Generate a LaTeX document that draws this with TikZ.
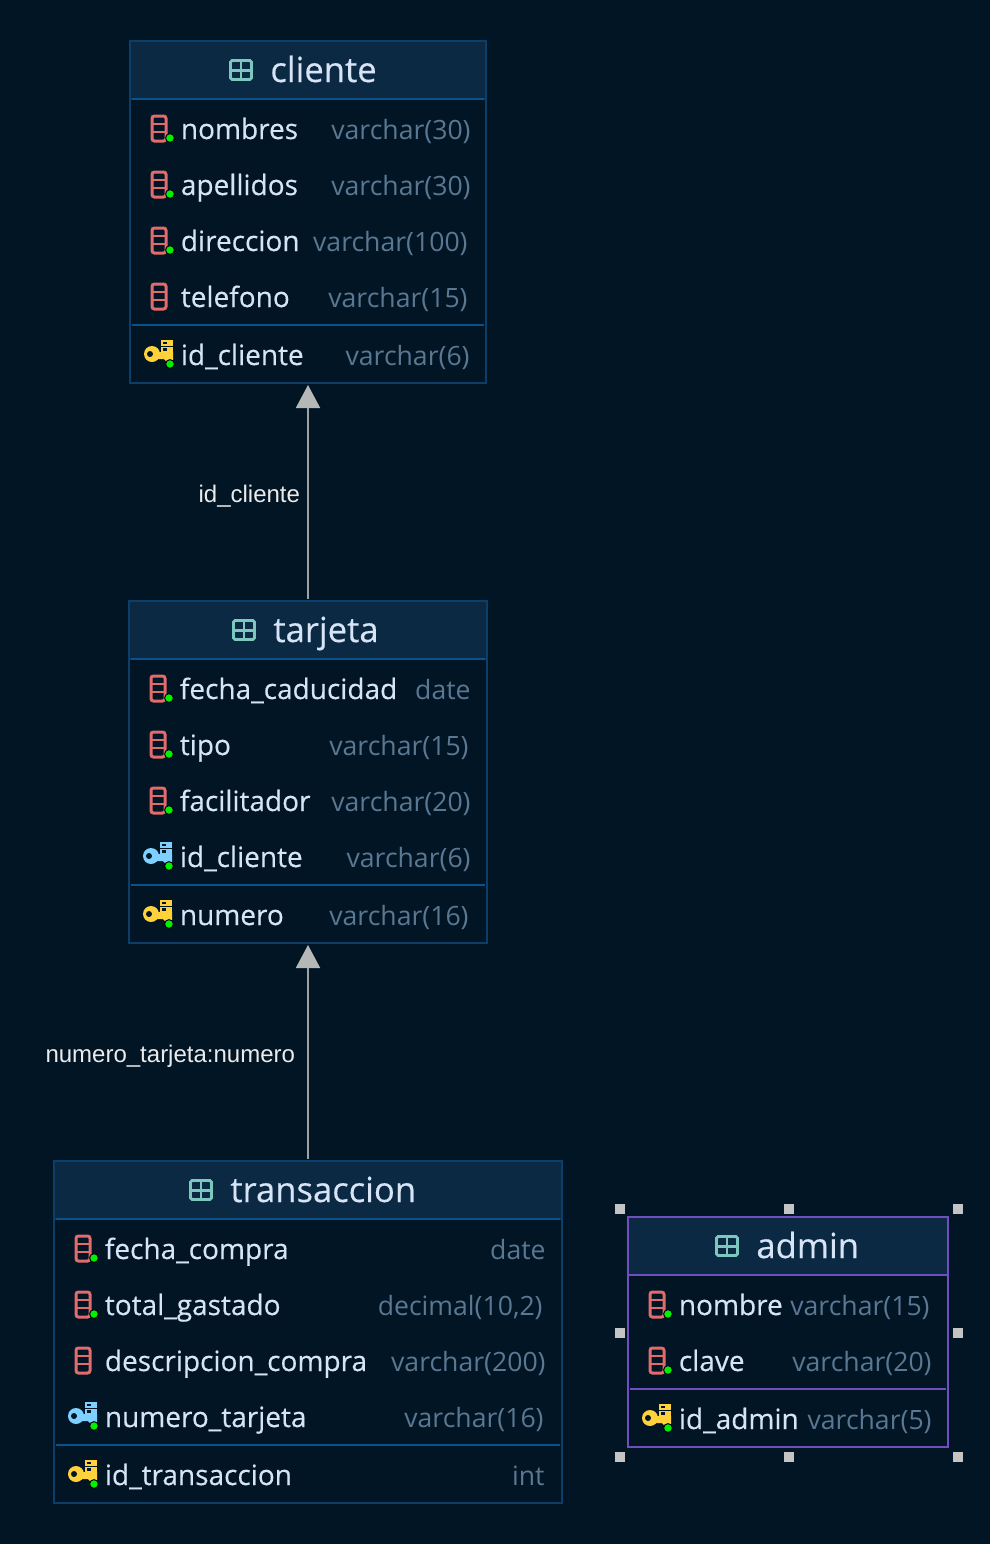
\documentclass[tikz,border=0pt]{standalone}
\usepackage{fontspec}
\setmainfont{Open Sans}
\newfontfamily\linkfont{Liberation Sans}
\newfontfamily\namefont[FakeBold=0.35]{Open Sans}
\usetikzlibrary{arrows.meta}

\definecolor{canvasbg}{RGB}{1,21,37}
\definecolor{headbg}{RGB}{12,41,68}
\definecolor{tableline}{RGB}{11,62,104}
\definecolor{headline}{RGB}{12,82,138}
\definecolor{pickline}{RGB}{112,78,190}
\definecolor{nametext}{RGB}{214,228,245}
\definecolor{typetext}{RGB}{90,120,145}
\definecolor{tableicon}{RGB}{125,200,190}
\definecolor{colred}{RGB}{226,108,108}
\definecolor{keyyellow}{RGB}{255,210,60}
\definecolor{keyblue}{RGB}{125,208,255}
\definecolor{dotgreen}{RGB}{0,240,0}
\definecolor{linkgray}{RGB}{160,162,162}
\definecolor{tipgray}{RGB}{182,184,184}
\definecolor{handlegray}{RGB}{196,196,196}

\tikzset{
  tablebox/.style={draw=#1, line width=0.85pt, outer sep=0pt, inner sep=0pt},
  headbox/.style={draw=#1, line width=0.85pt, fill=headbg},
  rowsep/.style={draw=#1, line width=1pt, shorten >=1pt, shorten <=1pt},
  titletext/.style={anchor=base west, inner sep=0pt, text=nametext, font=\namefont\fontsize{17.3}{20}\selectfont},
  colname/.style={anchor=base west, inner sep=0pt, text=nametext, font=\namefont\fontsize{14}{17}\selectfont},
  coltype/.style={anchor=base east, inner sep=0pt, text=typetext, font=\fontsize{13.3}{17}\selectfont},
  fklink/.style={draw=linkgray, line width=1pt, shorten >=1pt, shorten <=1pt,
    -{Triangle[width=12pt,length=11.5pt,color=tipgray]}},
  linklabel/.style={left, inner sep=0pt, text=white!92!black, font=\linkfont\fontsize{12}{14}\selectfont},
  handle/.style={fill=handlegray, minimum size=5pt, inner sep=0pt, outer sep=0pt},
  pics/tabicon/.style={code={
    \draw[tableicon, line width=1.4pt, rounded corners=0.8pt] (-10.5,-9.5) rectangle (10.5,9.5);
    \draw[tableicon, line width=1.1pt] (0,-9.5) -- (0,9.5) (-10.5,0.5) -- (10.5,0.5);
  }},
  pics/plaincol/.style={code={
    \draw[colred, line width=1.5pt, rounded corners=1.2pt] (-7,-13) rectangle (7,12);
    \draw[colred, line width=1.3pt] (-7,-5) -- (7,-5) (-7,3) -- (7,3);
  }},
  pics/okdot/.style={code={
    \filldraw[draw=black!70!canvasbg, fill=dotgreen, line width=0.5pt] (11,9) circle (4.4);
  }},
  pics/nullcol/.style={code={
    \pic {plaincol};
    \pic {okdot};
  }},
  pics/keyicon/.style={code={
    \fill[#1] (-7,-1) circle (8);
    \fill[#1] (-2,-3) -- (14,-3) -- (14,5) -- (12,7) -- (8,7) -- (5,4) -- (-2,4) -- cycle;
    \fill[#1] (2,-15) rectangle (14,-9.5);
    \fill[#1] (2,-8) rectangle (14,-3);
    \fill[canvasbg] (-9,-1) circle (3);
    \fill[canvasbg] (4,-13.5) rectangle (8,-11);
    \fill[canvasbg] (4,-7) rectangle (8,-4.5);
    \pic {okdot};
  }},
  pics/pkkey/.style={code={\pic {keyicon=keyyellow};}},
  pics/fkkey/.style={code={\pic {keyicon=keyblue};}},
}

% icon x, row y, icon pic, node name, label, type, right edge of type
\newcommand{\dbrow}[7]{
  \pic at (#1,#2) {#3};
  \node[colname] (#4) at (#1+21.5,#2+10) {#5};
  \node[coltype] (#4type) at (#7,#2+10) {#6};
}
% node name, centre x, centre y, width, height, line colour
\newcommand{\dbbox}[6]{
  \node[tablebox=#6, minimum width=#4*0.5pt, minimum height=#5*0.5pt] (#1) at (#2,#3) {};
}

\begin{document}
\begin{tikzpicture}[x=0.5pt, y=-0.5pt]
  \fill[canvasbg] (0,0) rectangle (990,1544);
  \useasboundingbox (0,0) rectangle (990,1544);

  % cliente
  \dbbox{cliente}{308}{212}{356}{342}{tableline}
  \draw[headbox=tableline] (cliente.north west) rectangle (cliente.east |- 0,99);
  \draw[rowsep=headline] (cliente.west |- 0,99) -- (cliente.east |- 0,99);
  \pic at (241,70) {tabicon};
  \node[titletext] (clientetitle) at (270,82) {cliente};
  \dbrow{159}{129}{nullcol}{nombres}{nombres}{varchar(30)}{471}
  \dbrow{159}{185}{nullcol}{apellidos}{apellidos}{varchar(30)}{471}
  \dbrow{159}{241}{nullcol}{direccion}{direccion}{varchar(100)}{468}
  \dbrow{159}{297}{plaincol}{telefono}{telefono}{varchar(15)}{468}
  \draw[rowsep=headline] (cliente.west |- 0,325) -- (cliente.east |- 0,325);
  \dbrow{159}{355}{pkkey}{idcliente}{id\_cliente}{varchar(6)}{470}

  % tarjeta
  \dbbox{tarjeta}{308}{772}{358}{342}{tableline}
  \draw[headbox=tableline] (tarjeta.north west) rectangle (tarjeta.east |- 0,659);
  \draw[rowsep=headline] (tarjeta.west |- 0,659) -- (tarjeta.east |- 0,659);
  \pic at (244,630) {tabicon};
  \node[titletext] (tarjetatitle) at (273,642) {tarjeta};
  \dbrow{158}{689}{nullcol}{fechacaducidad}{fecha\_caducidad}{date}{471}
  \dbrow{158}{745}{nullcol}{tipo}{tipo}{varchar(15)}{469}
  \dbrow{158}{801}{nullcol}{facilitador}{facilitador}{varchar(20)}{471}
  \dbrow{158}{857}{fkkey}{fkcliente}{id\_cliente}{varchar(6)}{471}
  \draw[rowsep=headline] (tarjeta.west |- 0,885) -- (tarjeta.east |- 0,885);
  \dbrow{158}{915}{pkkey}{numero}{numero}{varchar(16)}{469}

  % transaccion
  \dbbox{transaccion}{308}{1332}{508}{342}{tableline}
  \draw[headbox=tableline] (transaccion.north west) rectangle (transaccion.east |- 0,1219);
  \draw[rowsep=headline] (transaccion.west |- 0,1219) -- (transaccion.east |- 0,1219);
  \pic at (201,1190) {tabicon};
  \node[titletext] (transacciontitle) at (230,1202) {transaccion};
  \dbrow{83}{1249}{nullcol}{fechacompra}{fecha\_compra}{date}{546}
  \dbrow{83}{1305}{nullcol}{totalgastado}{total\_gastado}{decimal(10,2)}{543}
  \dbrow{83}{1361}{plaincol}{descripcioncompra}{descripcion\_compra}{varchar(200)}{546}
  \dbrow{83}{1417}{fkkey}{numerotarjeta}{numero\_tarjeta}{varchar(16)}{544}
  \draw[rowsep=headline] (transaccion.west |- 0,1445) -- (transaccion.east |- 0,1445);
  \dbrow{83}{1475}{pkkey}{idtransaccion}{id\_transaccion}{int}{545}

  % admin, selected
  \dbbox{admin}{788}{1332}{320}{230}{pickline}
  \draw[headbox=pickline] (admin.north west) rectangle (admin.east |- 0,1275);
  \draw[rowsep=pickline] (admin.west |- 0,1275) -- (admin.east |- 0,1275);
  \pic at (727,1246) {tabicon};
  \node[titletext] (admintitle) at (756,1258) {admin};
  \dbrow{657}{1305}{nullcol}{nombre}{nombre}{varchar(15)}{930}
  \dbrow{657}{1361}{nullcol}{clave}{clave}{varchar(20)}{932}
  \draw[rowsep=pickline] (admin.west |- 0,1389) -- (admin.east |- 0,1389);
  \dbrow{657}{1419}{pkkey}{idadmin}{id\_admin}{varchar(5)}{932}

  \node[handle] (hnw) at (620,1209) {};
  \node[handle] (hn) at (789,1209) {};
  \node[handle] (hne) at (958,1209) {};
  \node[handle] (hw) at (620,1333) {};
  \node[handle] (he) at (958,1333) {};
  \node[handle] (hsw) at (620,1457) {};
  \node[handle] (hs) at (789,1457) {};
  \node[handle] (hse) at (958,1457) {};

  \draw[fklink] (tarjeta.north) -- node[linklabel, xshift=-3.5pt, yshift=-2pt] (linkcliente) {id\_cliente} (cliente.south);
  \draw[fklink] (transaccion.north) -- node[linklabel, xshift=-6pt, yshift=-2pt] (linktarjeta) {numero\_tarjeta:numero} (tarjeta.south);
\end{tikzpicture}
\end{document}
